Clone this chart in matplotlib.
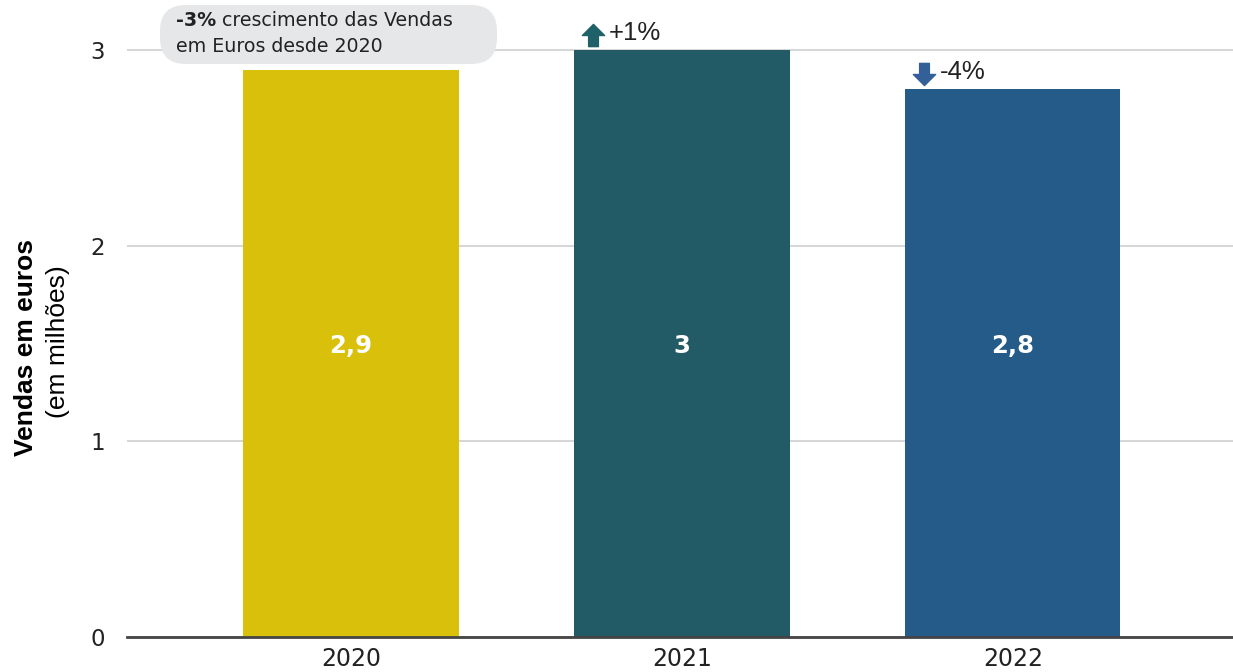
import matplotlib.pyplot as plt
from matplotlib.patches import FancyBboxPatch
from matplotlib.path import Path
from matplotlib.text import Annotation
from matplotlib.transforms import ScaledTranslation

years = ["2020", "2021", "2022"]
sales = [2.9, 3.0, 2.8]
value_labels = ["2,9", "3", "2,8"]
bar_colors = ["#D9C00B", "#225B66", "#255B89"]
changes = [None, "+1%", "-4%"]
y_ticks = [0, 1, 2, 3]

plt.rcParams["font.family"] = ["DejaVu Sans"]

fig = plt.figure(figsize=(12.33, 6.72), dpi=100)
ax = fig.add_axes([127 / 1233, 35 / 672, 1 - 127 / 1233, 1 - 46 / 672])

x = range(len(years))
ax.bar(x, sales, width=0.65, color=bar_colors, zorder=3)

for i, lab in enumerate(value_labels):
    ax.text(i, 1.49, lab, ha="center", va="center", color="white",
            fontsize=17.5, fontweight="bold", zorder=4)

# arrow markers
up = Path([(-0.5, 0), (0, 0.5), (0.5, 0), (0.22, 0), (0.22, -0.5),
           (-0.22, -0.5), (-0.22, 0), (-0.5, 0)], closed=True)
down = Path([(-0.5, 0), (0, -0.5), (0.5, 0), (0.22, 0), (0.22, 0.5),
             (-0.22, 0.5), (-0.22, 0), (-0.5, 0)], closed=True)

for i, ch in enumerate(changes):
    if ch is None:
        continue
    rising = ch.startswith("+")
    left = i - 0.65 / 2
    ax.plot([left], [sales[i]], marker=up if rising else down, markersize=16,
            color="#1F6168" if rising else "#34609A",
            transform=ax.transData + ScaledTranslation(19 / 100, 15 / 100,
                                                       fig.dpi_scale_trans),
            clip_on=False, zorder=5)
    ax.annotate(ch, xy=(left, sales[i]), xytext=(25, 4), textcoords="offset points",
                fontsize=18.5, color="#222222", ha="left", va="bottom",
                family="Liberation Sans")

ax.set_xlim(-0.677, 2.665)
ax.set_ylim(0, 3.2)
ax.set_xticks(list(x))
ax.set_xticklabels(years, fontsize=17, color="#222222")
ax.set_yticks(y_ticks)
ax.set_yticklabels([str(t) for t in y_ticks], fontsize=16.5, color="#222222")
ax.tick_params(axis="both", length=0)
ax.tick_params(axis="y", pad=16)
ax.tick_params(axis="x", pad=7)
ax.grid(axis="y", color="#D3D3D3", linewidth=1.3, zorder=0)
for s in ["top", "right", "left"]:
    ax.spines[s].set_visible(False)
ax.spines["bottom"].set_color("#444444")
ax.spines["bottom"].set_linewidth(2)
ax.spines["bottom"].set_zorder(4)

# y label
fig.text(26 / 1233, 1 - 347 / 672, "Vendas em euros", rotation=90, ha="center",
         va="center", fontsize=19, fontweight="bold", family="Liberation Sans")
fig.text(58 / 1233, 1 - 342 / 672, "(em milhões)", rotation=90, ha="center",
         va="center", fontsize=19, family="Liberation Sans")

# annotation pill
pill = FancyBboxPatch((160, 672 - 64), 337, 59,
                      boxstyle="round,pad=0,rounding_size=26",
                      facecolor="#E6E7E9", edgecolor="none", transform=None)
fig.patches.append(pill)
t1 = fig.text(176 / 1233, 1 - 21 / 672, "-3%", fontsize=13.7, fontweight="bold",
              color="#222222", va="center", ha="left")
fig.add_artist(Annotation(" crescimento das Vendas", xy=(1, 0), xycoords=t1,
                          va="bottom", ha="left", fontsize=13.7, color="#222222"))
fig.text(176 / 1233, 1 - 46 / 672, "em Euros desde 2020", fontsize=13.7,
         color="#222222", va="center", ha="left")

fig.savefig("out.png", dpi=100)
